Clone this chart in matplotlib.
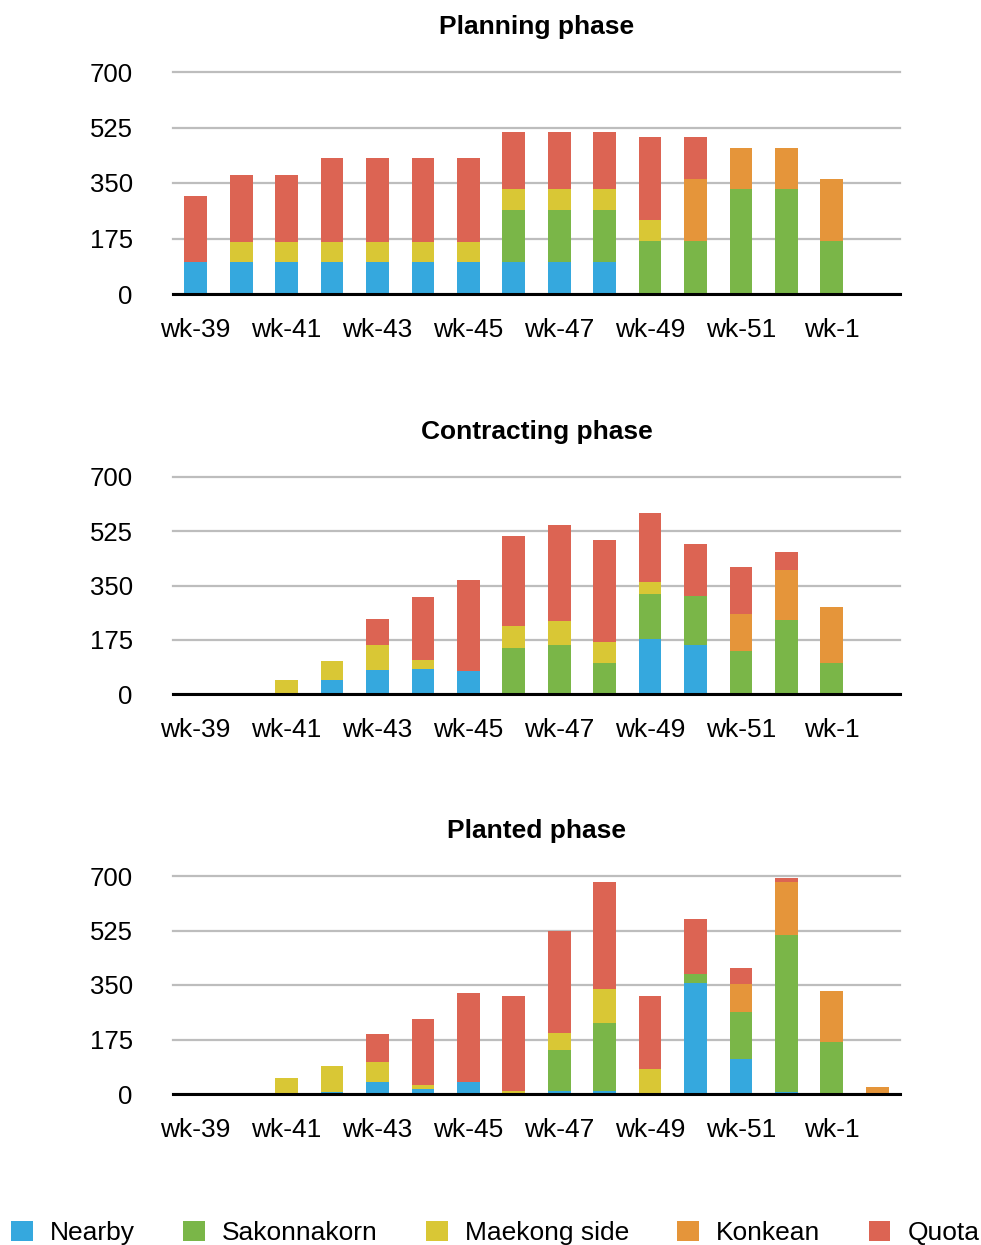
import matplotlib
matplotlib.use("Agg")
import matplotlib.pyplot as plt
import numpy as np

plt.rcParams['font.family'] = ['Liberation Sans', 'DejaVu Sans']

weeks = ["wk-39", "wk-40", "wk-41", "wk-42", "wk-43", "wk-44", "wk-45", "wk-46",
         "wk-47", "wk-48", "wk-49", "wk-50", "wk-51", "wk-52", "wk-1", "wk-2"]
series_names = ["Nearby", "Sakonnakorn", "Maekong side", "Konkean", "Quota"]
colors = ["#35a8de", "#7ab648", "#d9c735", "#e5953a", "#dc6453"]
titles = ["Planning phase", "Contracting phase", "Planted phase"]

# Planning phase
plan_nearby = [100, 100, 100, 100, 100, 100, 100, 100, 100, 100, 0, 0, 0, 0, 0, 0]
plan_sakon = [0, 0, 0, 0, 0, 0, 0, 166, 166, 166, 167, 167, 331, 331, 167, 0]
plan_maekong = [0, 65, 65, 65, 65, 65, 65, 65, 65, 65, 65, 0, 0, 0, 0, 0]
plan_konkean = [0, 0, 0, 0, 0, 0, 0, 0, 0, 0, 0, 195, 128, 128, 195, 0]
plan_quota = [210, 210, 210, 263, 263, 263, 263, 181, 181, 181, 262, 132, 0, 0, 0, 0]

# Contracting phase
con_nearby = [0, 0, 0, 45, 77, 81, 74, 0, 0, 0, 177, 158, 0, 0, 0, 0]
con_sakon = [0, 0, 0, 0, 0, 0, 0, 148, 158, 100, 146, 158, 139, 239, 100, 0]
con_maekong = [0, 0, 45, 61, 81, 29, 0, 71, 77, 68, 38, 0, 0, 0, 0, 0]
con_konkean = [0, 0, 0, 0, 0, 0, 0, 0, 0, 0, 0, 0, 119, 161, 181, 0]
con_quota = [0, 0, 0, 0, 84, 203, 294, 291, 310, 329, 223, 168, 152, 58, 0, 0]

# Planted phase
pla_nearby = [0, 0, 0, 6, 38, 16, 38, 0, 10, 10, 0, 355, 112, 8, 0, 0]
pla_sakon = [0, 0, 0, 0, 0, 0, 0, 0, 131, 217, 0, 29, 150, 501, 166, 0]
pla_maekong = [0, 0, 51, 84, 64, 13, 0, 9, 54, 109, 80, 0, 0, 0, 0, 0]
pla_konkean = [0, 0, 0, 0, 0, 0, 0, 0, 0, 0, 0, 0, 90, 173, 164, 22]
pla_quota = [0, 0, 0, 0, 90, 211, 285, 305, 327, 346, 234, 179, 54, 13, 0, 0]

panels = [
    [plan_nearby, plan_sakon, plan_maekong, plan_konkean, plan_quota],
    [con_nearby, con_sakon, con_maekong, con_konkean, con_quota],
    [pla_nearby, pla_sakon, pla_maekong, pla_konkean, pla_quota],
]

yticks = [0, 175, 350, 525, 700]

fig = plt.figure(figsize=(9.81, 12.45), dpi=100)
W, H = 981, 1245
axes_px = [(72, 294), (477, 694), (876, 1094)]
left_px, right_px = 173, 900

handles = None
for i, (top, bot) in enumerate(axes_px):
    ax = fig.add_axes([left_px / W, 1 - bot / H, (right_px - left_px) / W, (bot - top) / H])
    x = np.arange(len(weeks))
    bottom = np.zeros(len(weeks))
    hs = []
    for vals, name, c in zip(panels[i], series_names, colors):
        v = np.array(vals, dtype=float)
        b = ax.bar(x, v, width=0.5, bottom=bottom, color=c, label=name, zorder=3)
        hs.append(b)
        bottom += v
    if handles is None:
        handles = hs
    ax.set_xlim(-0.5, len(weeks) - 0.5)
    ax.set_ylim(0, 700)
    ax.set_yticks(yticks)
    ax.set_yticklabels([str(t) for t in yticks], fontsize=18.5)
    ax.set_xticks(x[::2])
    ax.set_xticklabels(weeks[::2], fontsize=19)
    ax.tick_params(axis='both', length=0)
    ax.tick_params(axis='y', pad=29)
    ax.tick_params(axis='x', pad=17)
    for s in ['top', 'left', 'right']:
        ax.spines[s].set_visible(False)
    ax.spines['bottom'].set_color('black')
    ax.spines['bottom'].set_linewidth(2.2)
    ax.spines['bottom'].set_zorder(5)
    ax.grid(axis='y', color='#bdbdbd', linewidth=1.6, zorder=0)
    ax.set_axisbelow(True)
    for gl in ax.get_ygridlines():
        gl.set_clip_on(False)
    ax.set_title(titles[i], fontsize=19, fontweight='bold', pad=27.5)

fig.legend(handles, series_names, loc='center left',
           bbox_to_anchor=(11 / W, 1 - 1233 / H), ncol=5, frameon=False,
           fontsize=19, handlelength=0.83, handleheight=0.83,
           handletextpad=0.65, columnspacing=1.82, borderpad=0, borderaxespad=0)

fig.savefig("out.png", dpi=100)
